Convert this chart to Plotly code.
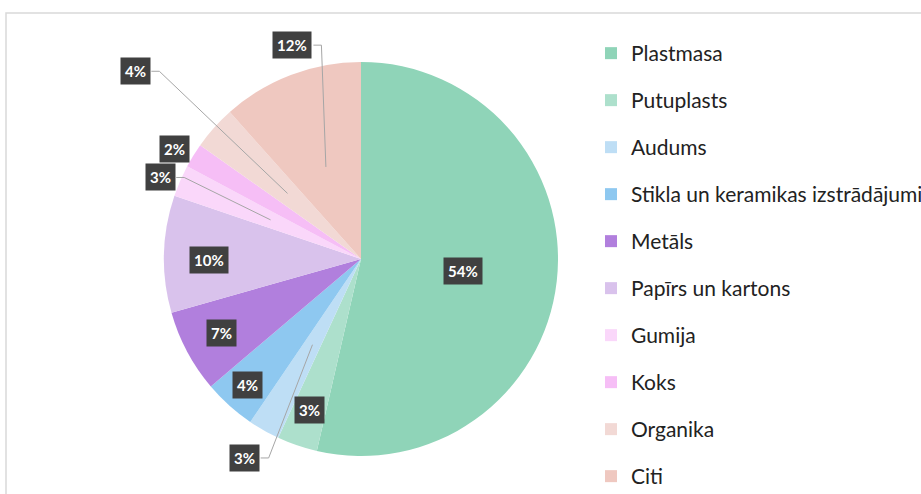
import math
import plotly.graph_objects as go

# ---- data ----
categories = [
    "Plastmasa", "Putuplasts", "Audums", "Stikla un keramikas izstrādājumi",
    "Metāls", "Papīrs un kartons", "Gumija", "Koks", "Organika", "Citi",
]
shares = [53.6, 3.3, 2.6, 4.3, 6.8, 9.6, 2.6, 2.0, 3.6, 11.6]

# ---- style ----
colors = [
    "#8FD4B8", "#ADE0CC", "#BEDEF5", "#8EC8F0", "#B17FDD",
    "#D9C2EC", "#FAD7FA", "#F6BEF6", "#F2D9D5", "#EFC8C0",
]
# label placement (fraction of radius, angle shift in deg), leader line flag
label_r = [0.52, 0.81, 1.17, 0.86, 0.80, 0.77, 1.10, 1.10, 1.49, 1.14]
label_dang = [0, 0, 0.8, 0, 0, -2.0, -1.3, -1.2, -2.0, 3.1]
leader = [False, False, True, False, False, False, True, False, True, True]

W, H = 921, 494
CX, CY, R = 361, 259, 197


def pap(x, y):
    return x / W, (H - y) / H


fig = go.Figure()
fig.add_trace(go.Pie(
    labels=categories, values=shares, sort=False, direction="clockwise",
    rotation=0, marker=dict(colors=colors, line=dict(width=0)),
    textinfo="none", hoverinfo="label+percent", showlegend=False,
    domain=dict(x=[(CX - R) / W, (CX + R) / W], y=[(H - CY - R) / H, (H - CY + R) / H]),
))

# legend entries
for cat, col in zip(categories, colors):
    fig.add_trace(go.Scatter(
        x=[None], y=[None], mode="markers", name=cat, legendgroup=cat,
        marker=dict(symbol="square", size=12, color=col), hoverinfo="skip",
    ))

annotations = []
shapes = []
total = sum(shares)
cum = 0.0
for i, v in enumerate(shares):
    mid = (cum + v / 2) / total * 360
    cum += v
    text = f"{v / total * 100:.0f}%"
    a = math.radians(mid + label_dang[i])
    lx = CX + label_r[i] * R * math.sin(a)
    ly = CY - label_r[i] * R * math.cos(a)
    px_, py_ = pap(lx, ly)
    annotations.append(dict(
        x=px_, y=py_, xref="paper", yref="paper", text=text, showarrow=False,
        xanchor="center", yanchor="middle",
        font=dict(family="Lato", size=15, color="white", weight="bold"),
        bgcolor="#404040", borderpad=4,
    ))
    if leader[i]:
        am = math.radians(mid)
        ax = CX + 0.5 * R * math.sin(am)
        ay = CY - 0.5 * R * math.cos(am)
        half_w = 6 + 5 * len(text)
        sx = lx + half_w
        p0 = pap(sx, ly)
        p1 = pap(sx + 8, ly)
        p2 = pap(ax, ay)
        shapes.append(dict(
            type="path", xref="paper", yref="paper",
            path=f"M{p0[0]},{p0[1]} L{p1[0]},{p1[1]} L{p2[0]},{p2[1]}",
            line=dict(color="#A6A6A6", width=1),
        ))

# outer frame
shapes.append(dict(
    type="rect", xref="paper", yref="paper", x0=6 / W, x1=1.05,
    y0=-0.05, y1=(H - 13) / H, line=dict(color="#D9D9D9", width=1.5),
    layer="below",
))

fig.update_layout(
    width=W, height=H,
    margin=dict(l=0, r=0, t=0, b=0, autoexpand=False),
    paper_bgcolor="white", plot_bgcolor="white",
    xaxis=dict(visible=False), yaxis=dict(visible=False),
    annotations=annotations, shapes=shapes,
    showlegend=True,
    legend=dict(
        x=591 / W, xanchor="left", y=(H - 33) / H, yanchor="top",
        tracegroupgap=16.7, font=dict(family="Lato", size=21, color="#222222"),
        bgcolor="rgba(0,0,0,0)", itemclick=False, itemdoubleclick=False,
    ),
)

fig.write_html(
    "out.html",
    config={"displayModeBar": False},
    post_script="document.body.style.margin='0px';document.body.style.overflow='hidden';",
)
